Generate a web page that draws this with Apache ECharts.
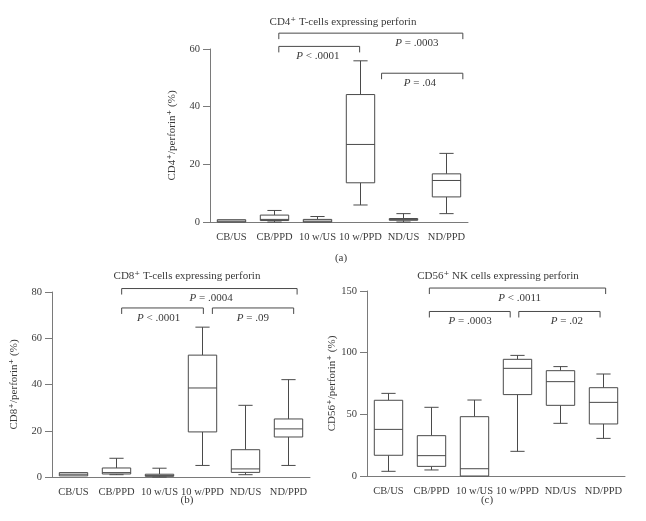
<!DOCTYPE html>
<html><head><meta charset="utf-8">
<script src="https://cdn.jsdelivr.net/npm/echarts@6/dist/echarts.min.js"></script>
<style>html,body{margin:0;padding:0;background:#fff}#c{width:646px;height:521px}</style>
</head><body><div id="c"></div>
<script>
const categories = ['CB/US', 'CB/PPD', '10 w/US', '10 w/PPD', 'ND/US', 'ND/PPD'];
// [min, Q1, median, Q3, max]
const cd4Boxes = [[0, 0, 0.3, 0.8, 0.8], [0, 0.5, 0.9, 2.4, 4.0], [0, 0, 0.3, 0.9, 1.9], [5.9, 13.6, 26.9, 44.2, 55.9], [0, 0.6, 0.9, 1.2, 2.9], [2.9, 8.7, 14.4, 16.7, 23.8]];
const cd8Boxes = [[0.4, 0.5, 1.2, 1.9, 1.9], [1.0, 1.3, 1.9, 3.9, 8.1], [0, 0.3, 0.6, 1.2, 3.8], [5.0, 19.5, 38.5, 52.7, 64.8], [1.0, 2.0, 3.5, 11.8, 31.0], [5.0, 17.3, 20.8, 25.1, 42.1]];
const cd56Boxes = [[3.8, 16.8, 37.8, 61.4, 67.0], [4.9, 7.8, 16.5, 32.7, 55.7], [0, 0, 5.9, 48.1, 61.6], [20.0, 66.0, 87.3, 94.6, 97.8], [42.7, 57.3, 76.5, 85.4, 88.7], [30.5, 42.2, 59.7, 71.6, 82.7]];
// brackets: [from, to, y, label x, label text]
const cd4Brackets = [[1.10, 5.38, 65.5, 4.31, '= .0003'], [1.10, 2.98, 60.9, 2.01, '< .0001'], [3.49, 5.38, 51.6, 4.38, '= .04']];
const cd8Brackets = [[1.12, 5.20, 81.5, 3.20, '= .0004'], [1.12, 3.02, 73.1, 1.98, '< .0001'], [3.23, 5.12, 73.1, 4.17, '= .09']];
const cd56Brackets = [[0.95, 5.05, 152.4, 3.05, '< .0011'], [0.95, 2.83, 133.4, 1.90, '= .0003'], [3.03, 4.92, 133.4, 4.15, '= .02']];
const cd4Ticks = {min: 0, max: 60, interval: 20};
const cd8Ticks = {min: 0, max: 80, interval: 20};
const cd56Ticks = {min: 0, max: 150, interval: 50};
const titles = ['CD4\u207A T-cells expressing perforin', 'CD8\u207A T-cells expressing perforin', 'CD56\u207A NK cells expressing perforin'];
const yNames = ['CD4\u207A/perforin\u207A (%)', 'CD8\u207A/perforin\u207A (%)', 'CD56\u207A/perforin\u207A (%)'];
const captions = ['(a)', '(b)', '(c)'];

const FONT = '"Liberation Serif", "DejaVu Serif", serif';
const TXT = '#3a3a3a';
const AX = '#7a7a7a';
const LN = '#4a4a4a';

const grids = [
  {left: 210, top: 49, width: 258, height: 173},
  {left: 52, top: 292, width: 258, height: 185},
  {left: 367, top: 291, width: 258, height: 185}
];
const ticks = [cd4Ticks, cd8Ticks, cd56Ticks];
const boxes = [cd4Boxes, cd8Boxes, cd56Boxes];
const brackets = [cd4Brackets, cd8Brackets, cd56Brackets];
const nameGaps = [32, 32, 28];
const titlePos = [[338, 12], [182, 266], [493, 266]];
const capPos = [[336, 248], [182, 490], [482, 490]];

function boxItem(params, api) {
  const idx = api.value(0);
  const pMin = api.coord([idx, api.value(1)]);
  const pQ1 = api.coord([idx, api.value(2)]);
  const pMed = api.coord([idx, api.value(3)]);
  const pQ3 = api.coord([idx, api.value(4)]);
  const pMax = api.coord([idx, api.value(5)]);
  const bw = api.size([1, 0])[0] * 0.66;
  const h = bw / 2, c = bw / 4;
  const x = pMed[0];
  const st = {stroke: LN, lineWidth: 1, fill: null};
  const ch = [];
  if (pMax[1] < pQ3[1] - 0.5) {
    ch.push({type: 'line', shape: {x1: x, y1: pQ3[1], x2: x, y2: pMax[1]}, style: st});
    ch.push({type: 'line', shape: {x1: x - c, y1: pMax[1], x2: x + c, y2: pMax[1]}, style: st});
  }
  if (pMin[1] > pQ1[1] + 0.5) {
    ch.push({type: 'line', shape: {x1: x, y1: pQ1[1], x2: x, y2: pMin[1]}, style: st});
    ch.push({type: 'line', shape: {x1: x - c, y1: pMin[1], x2: x + c, y2: pMin[1]}, style: st});
  }
  ch.push({type: 'rect', shape: {x: x - h, y: pQ3[1], width: bw, height: Math.max(pQ1[1] - pQ3[1], 1)}, style: {stroke: LN, lineWidth: 1, fill: '#fff'}});
  ch.push({type: 'line', shape: {x1: x - h, y1: pMed[1], x2: x + h, y2: pMed[1]}, style: st});
  return {type: 'group', children: ch};
}

function makeBracketItem(list) {
  return function (params, api) {
    const d = list[params.dataIndex];
    const a = api.coord([d[0], d[2]]);
    const b = api.coord([d[1], d[2]]);
    const l = api.coord([d[3], d[2]]);
    return {
      type: 'group',
      children: [
        {type: 'polyline', shape: {points: [[a[0], a[1] + 6], [a[0], a[1]], [b[0], b[1]], [b[0], b[1] + 6]]}, style: {stroke: LN, lineWidth: 1, fill: null}},
        {type: 'text', x: l[0], y: l[1] + 10, style: {
          text: '{i|P} ' + d[4], align: 'center', verticalAlign: 'middle',
          fill: TXT, fontFamily: FONT, fontSize: 11,
          rich: {i: {fontStyle: 'italic', fontFamily: FONT, fontSize: 11, fill: TXT}}
        }}
      ]
    };
  };
}

const option = {
  backgroundColor: '#fff',
  animation: false,
  title: [],
  grid: grids,
  xAxis: [],
  yAxis: [],
  series: []
};

for (let k = 0; k < 3; k++) {
  option.title.push({text: titles[k], left: titlePos[k][0], top: titlePos[k][1], textAlign: 'center',
    textStyle: {fontFamily: FONT, fontSize: 11, fontWeight: 'normal', color: TXT}});
  option.title.push({text: captions[k], left: capPos[k][0], top: capPos[k][1], textAlign: 'center',
    textStyle: {fontFamily: FONT, fontSize: 11, fontWeight: 'normal', color: TXT}});
  option.xAxis.push({
    type: 'category', gridIndex: k, data: categories, boundaryGap: true,
    axisLine: {onZero: false, lineStyle: {color: AX, width: 1}},
    axisTick: {alignWithLabel: true, length: 6, lineStyle: {color: AX}},
    axisLabel: {color: TXT, fontFamily: FONT, fontSize: 10.5, margin: 10, interval: 0},
    splitLine: {show: false}
  });
  option.xAxis.push({type: 'value', gridIndex: k, min: -0.5, max: 5.5, show: false});
  option.yAxis.push({
    type: 'value', gridIndex: k, min: ticks[k].min, max: ticks[k].max, interval: ticks[k].interval,
    name: yNames[k], nameLocation: 'middle', nameGap: nameGaps[k],
    nameTextStyle: {color: TXT, fontFamily: FONT, fontSize: 11},
    axisLine: {show: true, onZero: false, lineStyle: {color: AX, width: 1}},
    axisTick: {show: true, length: 7, lineStyle: {color: AX}},
    axisLabel: {color: TXT, fontFamily: FONT, fontSize: 10.5, margin: 10},
    splitLine: {show: false}
  });
  option.series.push({
    type: 'custom', xAxisIndex: 2 * k, yAxisIndex: k, renderItem: boxItem,
    data: boxes[k].map((b, i) => [i].concat(b)), clip: false, silent: true
  });
  option.series.push({
    type: 'custom', xAxisIndex: 2 * k + 1, yAxisIndex: k, renderItem: makeBracketItem(brackets[k]),
    data: brackets[k].map(d => [d[0], d[2]]), clip: false, silent: true
  });
}

const chart = echarts.init(document.getElementById('c'), null, {renderer: 'canvas'});
chart.setOption(option);
</script></body></html>
